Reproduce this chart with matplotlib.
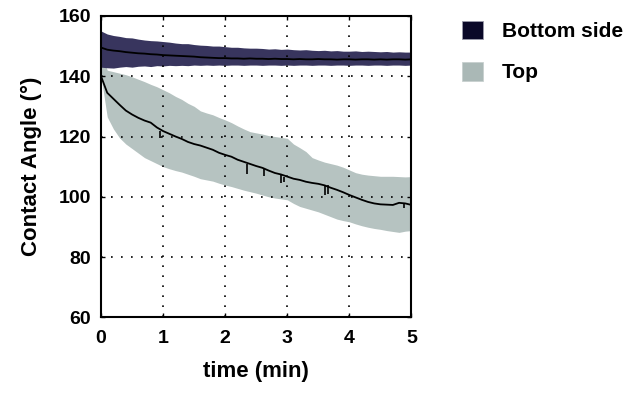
import matplotlib
matplotlib.use("Agg")
import matplotlib.pyplot as plt
from matplotlib.patches import Patch

plt.rcParams['font.family'] = ['Liberation Sans', 'DejaVu Sans']
plt.rcParams['font.weight'] = 'bold'

# time axis (min), 0.1 min steps
t = [i / 10 for i in range(51)]

# Top surface: mean and band limits
top_mean = [140.0, 134.5, 132.5, 130.5, 128.6, 127.3, 126.2, 125.3, 124.6, 123.0,
            121.8, 120.9, 120.0, 119.2, 118.2, 117.5, 117.0, 116.3, 115.6, 114.6,
            113.9, 113.3, 112.3, 111.6, 110.9, 110.2, 109.6, 108.7, 107.9, 107.4,
            106.7, 106.0, 105.6, 105.0, 104.6, 104.3, 103.8, 103.0, 102.3, 101.5,
            100.6, 99.8, 99.0, 98.3, 97.8, 97.5, 97.4, 97.3, 98.0, 97.8,
            97.3]
top_upper = [148.0, 142.0, 141.5, 141.0, 140.5, 139.8, 139.0, 138.2, 137.3, 136.5,
             135.5, 134.5, 133.3, 132.3, 131.0, 130.0, 128.5, 127.8, 127.2, 126.3,
             125.5, 124.6, 123.5, 122.5, 121.6, 121.2, 120.8, 120.3, 120.0, 119.7,
             119.4, 117.5, 116.3, 115.0, 113.0, 112.2, 111.5, 111.0, 110.5, 109.8,
             108.9, 108.0, 107.5, 107.2, 107.0, 106.8, 106.8, 106.8, 106.7, 106.6,
             106.7]
top_lower = [140.0, 126.5, 122.5, 119.5, 117.5, 116.0, 114.5, 113.0, 112.0, 111.0,
             110.0, 109.3, 108.7, 108.2, 107.5, 106.8, 106.0, 105.6, 105.2, 104.5,
             103.9, 103.4, 102.8, 102.2, 101.7, 101.2, 100.6, 100.0, 99.6, 99.3,
             99.0, 97.8, 96.8, 96.2, 95.6, 95.0, 94.2, 93.4, 92.6, 92.1,
             91.7, 91.0, 90.4, 89.9, 89.5, 89.2, 88.8, 88.5, 88.2, 88.6,
             88.8]

# Bottom side: mean and band limits
bot_mean = [149.5, 148.8, 148.5, 148.3, 148.0, 147.8, 147.6, 147.5, 147.3, 147.2,
            147.0, 146.9, 146.8, 146.7, 146.6, 146.5, 146.3, 146.2, 146.1, 146.0,
            146.0, 145.9, 145.9, 145.8, 145.9, 145.8, 145.8, 145.7, 145.8, 145.7,
            145.7, 145.6, 145.7, 145.6, 145.6, 145.7, 145.6, 145.6, 145.5, 145.6,
            145.6, 145.5, 145.6, 145.6, 145.5, 145.6, 145.5, 145.6, 145.6, 145.5,
            145.6]
bot_upper = [155.0, 154.0, 153.5, 153.2, 152.8, 152.7, 152.3, 152.0, 151.8, 151.7,
             151.5, 151.3, 151.0, 150.8, 150.8, 150.5, 150.3, 150.2, 150.0, 150.0,
             149.8, 149.6, 149.6, 149.4, 149.3, 149.3, 149.2, 149.0, 149.1, 148.9,
             149.0, 148.8, 148.7, 148.8, 148.6, 148.5, 148.6, 148.4, 148.5, 148.3,
             148.3, 148.4, 148.2, 148.3, 148.2, 148.1, 148.2, 148.0, 148.1, 148.0,
             148.0]
bot_lower = [143.0, 142.8, 142.7, 143.0, 143.2, 143.0, 143.3, 143.4, 143.2, 143.5,
             143.4, 143.6, 143.5, 143.6, 143.5, 143.7, 143.6, 143.7, 143.6, 143.7,
             143.6, 143.7, 143.7, 143.6, 143.7, 143.7, 143.6, 143.7, 143.7, 143.6,
             143.7, 143.6, 143.7, 143.7, 143.6, 143.7, 143.7, 143.6, 143.7, 143.7,
             143.6, 143.7, 143.7, 143.6, 143.7, 143.7, 143.6, 143.7, 143.7, 143.6,
             143.7]

# short downward spikes on the top mean curve
spike_t = [0.95, 2.35, 2.62, 2.9, 2.95, 3.6, 3.65, 4.88]
spike_lo = [119.5, 107.5, 107.0, 104.5, 104.8, 100.5, 100.8, 96.3]

dark = '#38355e'
light = '#b6c3c1'

fig = plt.figure(figsize=(6.29, 3.93), dpi=100)
ax = fig.add_axes([0.1606, 0.1924, 0.4936, 0.7671])

ax.fill_between(t, top_lower, top_upper, color=light, linewidth=0)
ax.fill_between(t, bot_lower, bot_upper, color=dark, linewidth=0)
ax.plot(t, top_mean, color='black', linewidth=1.3)
ax.plot(t, bot_mean, color='black', linewidth=1.3)
ax.vlines(spike_t, spike_lo, [top_mean[int(round(s * 10))] for s in spike_t],
          color='black', linewidth=1.2)

ax.set_xlim(0, 5)
ax.set_ylim(60, 160)
ax.set_xticks(range(6))
ax.set_yticks(range(60, 161, 20))
ax.grid(True, color='black', linestyle=(0, (1, 5)), linewidth=1.2)
ax.tick_params(direction='in', length=3, width=1, top=True, right=True,
               labelsize=14)
ax.tick_params(axis='x', pad=9)
ax.tick_params(axis='y', pad=7)
for s in ax.spines.values():
    s.set_linewidth(1.5)

ax.set_xlabel('time (min)', fontsize=16, fontweight='bold', labelpad=10)
ax.set_ylabel('Contact Angle (°)', fontsize=16, fontweight='bold', labelpad=12)

handles = [Patch(facecolor='#0a0828', edgecolor='#9a9aaa', linewidth=0.6, label='Bottom side'),
           Patch(facecolor='#aab8b6', edgecolor='#c8d0cf', linewidth=0.6, label='Top')]
fig.legend(handles=handles, loc='upper left', bbox_to_anchor=(0.705, 0.995),
           frameon=False, handlelength=1.0, handleheight=1.0,
           handletextpad=0.9, labelspacing=1.0,
           prop={'weight': 'bold', 'size': 15})

fig.savefig('out.png', dpi=100)
